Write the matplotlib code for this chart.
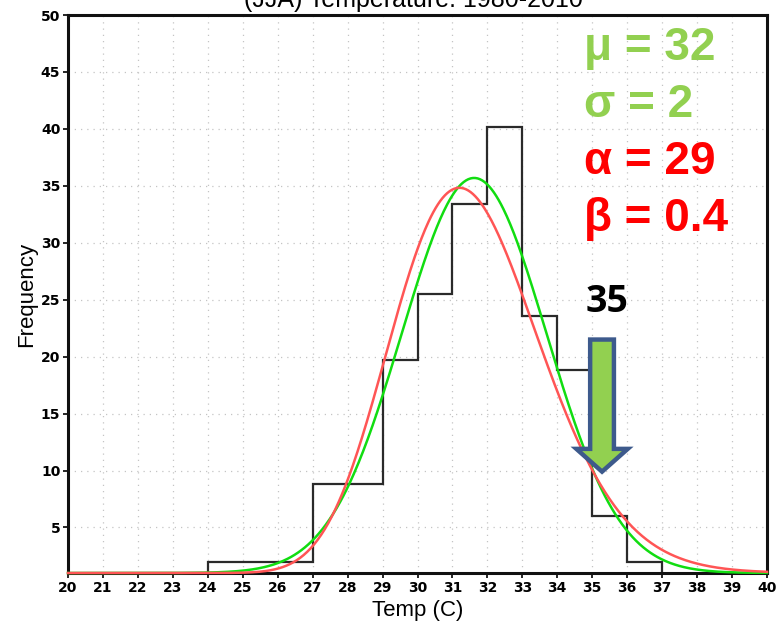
import math
import numpy as np
import matplotlib
matplotlib.use('Agg')
import matplotlib.pyplot as plt
from matplotlib.patches import FancyArrow

# histogram (bin edges 20..40, one value per 1-degree bin)
bin_edges = list(range(20, 41))
freq = [0, 0, 0, 0, 2.0, 2.0, 2.0, 8.8, 8.8, 19.7, 25.5, 33.4, 40.2, 23.6, 18.8, 6.0, 2.0, 0, 0, 0]

# fitted curves (drawn on top of the y=1 floor)
n_total = 180.0
curve_floor = 1.0
norm_mu, norm_sigma = 31.62, 2.07
gam_shape, gam_scale, gam_offset = 29, 0.4, 20

x_ticks = list(range(20, 41))
y_ticks = [5, 10, 15, 20, 25, 30, 35, 40, 45, 50]

labels_green = ['\u03bc = 32', '\u03c3 = 2']
labels_red = ['\u03b1 = 29', '\u03b2 = 0.4']
mark_label = '35'

xs = np.linspace(20, 40, 600)
normal = n_total * np.exp(-0.5 * ((xs - norm_mu) / norm_sigma) ** 2) / (norm_sigma * math.sqrt(2 * math.pi))
t = xs - gam_offset
log_g = (gam_shape - 1) * np.log(t) - t / gam_scale - math.lgamma(gam_shape) - gam_shape * math.log(gam_scale)
gamma = n_total * np.exp(log_g)

fig = plt.figure(figsize=(7.83, 6.28), dpi=100)
ax = fig.add_axes([68 / 783, 1 - 573 / 628, (767 - 68) / 783, (573 - 15) / 628])

ax.set_xlim(20, 40)
ax.set_ylim(1, 50)
ax.set_xticks(x_ticks)
ax.set_yticks(y_ticks)
for v in x_ticks[1:-1]:
    ax.axvline(v, color='#c4c4c4', lw=0.9, ls=(0, (1, 4)), zorder=0)
for v in y_ticks[:-1]:
    ax.axhline(v, color='#c4c4c4', lw=0.9, ls=(0, (1, 4)), zorder=0)

ax.stairs(freq, bin_edges, color='#2a2a2a', lw=1.6, zorder=2)
ax.plot(xs, curve_floor + normal, color='#11dd11', lw=1.8, zorder=3, clip_on=False)
ax.plot(xs, curve_floor + gamma, color='#ff5555', lw=1.8, zorder=4, clip_on=False)

for s in ax.spines.values():
    s.set_linewidth(2.2)
    s.set_color('#111111')

tick_font = dict(family='Liberation Sans Narrow', weight='bold', size=10)
ax.tick_params(axis='both', length=3.5, width=1.2, direction='out', pad=2)
ax.set_xticklabels([str(v) for v in x_ticks], **tick_font)
ax.set_yticklabels([str(v) for v in y_ticks], **tick_font)

ax.set_xlabel('Temp (C)', family='Liberation Sans', size=16, labelpad=4)
ax.set_ylabel('Frequency', family='Liberation Sans', size=16, labelpad=3)

fig.text(413 / 783, 1 - 7 / 628, '(JJA) Temperature: 1980-2010', ha='center', va='baseline',
         family='Liberation Sans', size=18)

# parameter labels
for i, s in enumerate(labels_green + labels_red):
    col = '#92d050' if i < 2 else '#ff0000'
    fig.text(584 / 783, 1 - (48 + 57 * i) / 628, s, color=col, ha='left', va='center',
             family='Liberation Sans', weight='bold', size=33)

fig.text(607 / 783, 1 - 302 / 628, mark_label, color='black', ha='center', va='center',
         family='Open Sans', weight='bold', size=27)

arrow = FancyArrow(35.28, 21.5, 0, -11.6, width=0.68, head_width=1.47, head_length=2.0,
                   length_includes_head=True, facecolor='#92d050', edgecolor='#3d5a8c',
                   lw=3.2, zorder=6)
ax.add_patch(arrow)

fig.savefig('out.png', dpi=100)
